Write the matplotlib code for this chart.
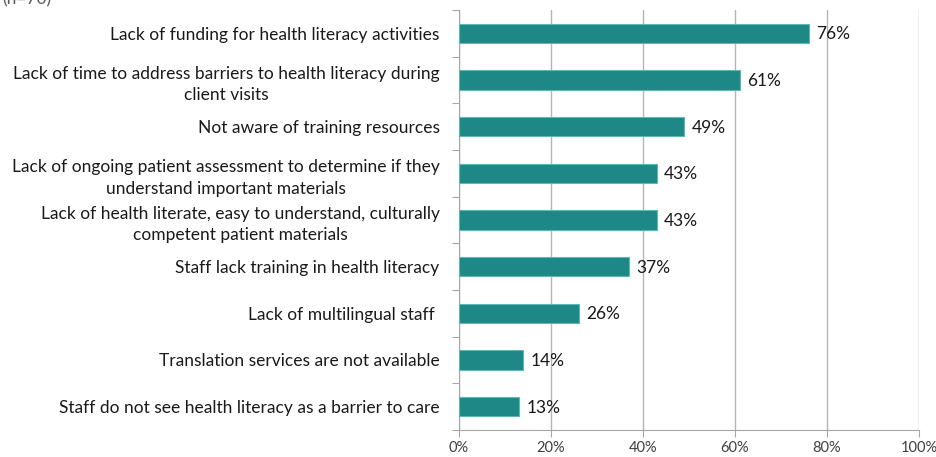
import matplotlib
matplotlib.use("Agg")
import matplotlib.pyplot as plt
from matplotlib.ticker import FixedLocator, PercentFormatter

categories = [
    "Lack of funding for health literacy activities",
    "Lack of time to address barriers to health literacy during\nclient visits",
    "Not aware of training resources",
    "Lack of ongoing patient assessment to determine if they\nunderstand important materials",
    "Lack of health literate, easy to understand, culturally\ncompetent patient materials",
    "Staff lack training in health literacy",
    "Lack of multilingual staff ",
    "Translation services are not available",
    "Staff do not see health literacy as a barrier to care",
]
values = [76, 61, 49, 43, 43, 37, 26, 14, 13]
xticks = [0, 20, 40, 60, 80, 100]
sample_note = "(n=70)"

plt.rcParams["font.family"] = ["Lato", "DejaVu Sans"]

fig = plt.figure(figsize=(9.37, 4.57), dpi=100)
ax = fig.add_axes([459 / 937, 1 - 430 / 457, 460 / 937, 420 / 457])

n = len(categories)
ypos = list(range(n))
bars = ax.barh(ypos, values, height=0.41, color="#1E8887",
               edgecolor="#5DB8B6", linewidth=0.8, zorder=3)

ax.set_xlim(0, 100)
ax.set_ylim(n - 0.5, -0.5)

ax.set_xticks(xticks)
ax.xaxis.set_major_formatter(PercentFormatter(decimals=0))
ax.tick_params(axis="x", length=5, width=0.8, color="#A6A6A6",
               labelsize=10.5, labelcolor="#404040", pad=3)
ax.grid(axis="x", color="#B5B5B5", linewidth=1.0, zorder=0)

ax.set_yticks(ypos)
ax.set_yticklabels(categories, fontsize=12.5, color="#1a1a1a",
                   multialignment="center", linespacing=1.45)
ax.tick_params(axis="y", length=0, pad=14)
ax.yaxis.set_minor_locator(FixedLocator([i - 0.5 for i in range(n + 1)]))
ax.tick_params(axis="y", which="minor", length=5, width=0.8, color="#A6A6A6")

for side in ("top", "right"):
    ax.spines[side].set_visible(False)
for side in ("left", "bottom"):
    ax.spines[side].set_color("#A6A6A6")
    ax.spines[side].set_linewidth(0.8)

for rect, v in zip(bars, values):
    ax.text(v + 1.6, rect.get_y() + rect.get_height() / 2 + 0.02, f"{v}%",
            va="center", ha="left", fontsize=12.5, color="#1a1a1a", zorder=4)

fig.text(2 / 937, 1 + 9 / 457, sample_note, ha="left", va="top",
         fontsize=12.5, color="#595959")

fig.savefig("out.png", dpi=100)
